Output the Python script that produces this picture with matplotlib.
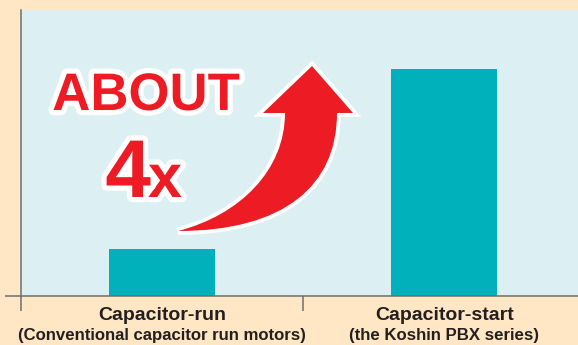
import matplotlib
matplotlib.use("Agg")
import matplotlib.pyplot as plt
import matplotlib.patheffects as pe
from matplotlib.path import Path
from matplotlib.patches import PathPatch
from matplotlib.transforms import Affine2D

# starting torque, relative to a conventional capacitor-run motor
categories = ["Capacitor-run", "Capacitor-start"]
subtitles = ["(Conventional capacitor run motors)", "(the Koshin PBX series)"]
torque = [1.0, 4.8]

W, H = 578, 345
peach = "#FFE6C4"
panel = "#DCEFF2"
teal = "#00B1BC"
red = "#ED1C24"
grey = "#6D6E70"
ink = "#231F20"

plt.rcParams["font.family"] = ["Liberation Sans", "DejaVu Sans"]

fig = plt.figure(figsize=(W / 100, H / 100), dpi=100, facecolor=peach)
ax = fig.add_axes([20.7 / W, (H - 296.3) / H, (W - 20.7) / W, 286.3 / H])
ax.set_facecolor(panel)

x = range(len(categories))
ax.bar(x, torque, width=0.376, color=teal, zorder=2)

ax.set_xlim(-0.5, 1.474)
ax.set_ylim(0, 6.05)

for side in ["top", "right"]:
    ax.spines[side].set_visible(False)
for side in ["left", "bottom"]:
    ax.spines[side].set_color(grey)
    ax.spines[side].set_linewidth(1.1)

ax.set_yticks([])
ax.set_xticks([-0.5, 0.5])
ax.set_xticklabels([])
ax.tick_params(axis="x", direction="out", length=10.5, width=1.1, color=grey)

# short stub of the baseline to the left of the y axis
ax.plot([-15.7 / 557.3, 0], [0, 0], transform=ax.transAxes, color=grey,
        lw=1.1, clip_on=False, solid_capstyle="butt")

# two-line category labels under each bar
xt = ax.get_xaxis_transform()
for i, (name, sub) in enumerate(zip(categories, subtitles)):
    ax.text(i, (296.3 - 320.5) / 286.3, name, transform=xt, ha="center",
            va="baseline", fontsize=14, fontweight="bold", color=ink)
    ax.text(i, (296.3 - 340) / 286.3, sub, transform=xt, ha="center",
            va="baseline", fontsize=12.1, fontweight="bold", color=ink)

# pixel coordinates measured from the top-left corner of the figure
px = Affine2D().scale(1 / W, -1 / H).translate(0, 1) + fig.transFigure

outline = [pe.withStroke(linewidth=7.5, foreground="white")]
fig.text(146, 110, "ABOUT", transform=px, ha="center", va="baseline",
         fontsize=38, fontweight="bold", color=red, path_effects=outline, zorder=5)
fig.text(151, 197, "4", transform=px, ha="right", va="baseline",
         fontsize=59, fontweight="bold", color=red, path_effects=outline, zorder=6)
fig.text(148, 197, "x", transform=px, ha="left", va="baseline",
         fontsize=44, fontweight="bold", color=red, path_effects=outline, zorder=5)

# curved arrow rising from the small bar towards the tall one
verts = [
    (178, 231),
    (285, 231), (337, 185), (337, 113),
    (353, 113), (312, 66), (263, 113), (285, 113),
    (285, 170), (240, 215), (178, 231),
    (178, 231),
]
codes = [Path.MOVETO,
         Path.CURVE4, Path.CURVE4, Path.CURVE4,
         Path.LINETO, Path.LINETO, Path.LINETO, Path.LINETO,
         Path.CURVE4, Path.CURVE4, Path.CURVE4,
         Path.CLOSEPOLY]
arrow = PathPatch(Path(verts, codes), transform=px, facecolor=red,
                  edgecolor="none", clip_on=False, zorder=4,
                  path_effects=[pe.Stroke(linewidth=5.5, foreground="white"), pe.Normal()])
fig.add_artist(arrow)

fig.savefig("out.png", dpi=100, facecolor=peach)
